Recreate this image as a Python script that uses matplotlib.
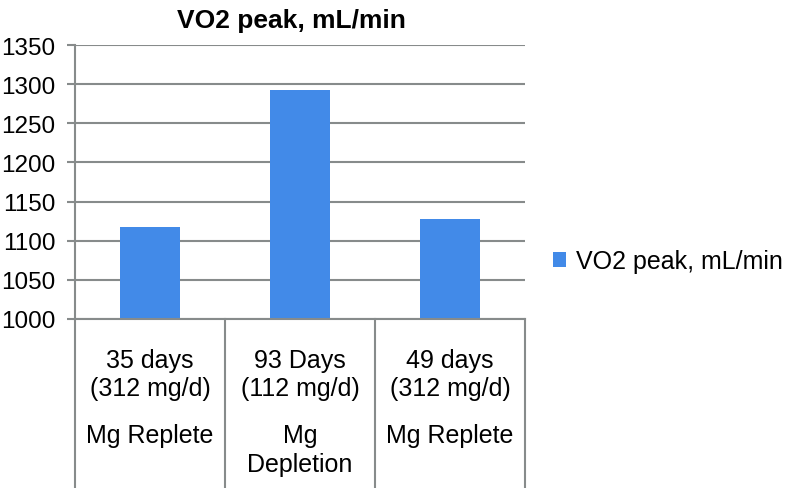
import matplotlib
matplotlib.use("Agg")
import matplotlib.pyplot as plt

# data
days = ["35 days\n(312 mg/d)", "93 Days\n(112 mg/d)", "49 days\n(312 mg/d)"]
phase = ["Mg Replete", "Mg\nDepletion", "Mg Replete"]
vo2 = [1118, 1293, 1128]
series = "VO2 peak, mL/min"
yticks = [1000, 1050, 1100, 1150, 1200, 1250, 1300, 1350]

plt.rcParams['font.family'] = ['Liberation Sans', 'DejaVu Sans']
grey = "#878b8b"
blue = "#428ae8"

fig = plt.figure(figsize=(7.86, 4.89), dpi=100)
ax = fig.add_axes([75/786, 1 - 320/489, 450/786, 274/489])

x = range(len(vo2))
ax.bar(x, vo2, width=0.4, color=blue, label=series, zorder=3)

ax.set_xlim(-0.5, 2.5)
ax.set_ylim(1000, 1350)
ax.set_yticks(yticks)
ax.tick_params(axis='y', labelsize=17.5, length=6, width=1.5, color=grey, pad=8)
ax.tick_params(axis='x', bottom=False, labelbottom=False)
ax.grid(axis='y', color=grey, linewidth=1.5, zorder=0)

for s in ["top", "right", "bottom"]:
    ax.spines[s].set_visible(False)
ax.spines["left"].set_color(grey)
ax.spines["left"].set_linewidth(1.5)

# table-like category area under the axis
tr = ax.get_xaxis_transform()
for b in [-0.5, 0.5, 1.5, 2.5]:
    ax.plot([b, b], [0, -0.7], color=grey, linewidth=1.5, transform=tr, clip_on=False)
ax.plot([-0.5, 2.5], [0, 0], color=grey, linewidth=1.5, transform=tr, clip_on=False, zorder=4)

for i in x:
    ax.text(i, -0.105, days[i], transform=tr, ha='center', va='top', fontsize=18,
            linespacing=1.2)
    ax.text(i, -0.38, phase[i], transform=tr, ha='center', va='top', fontsize=18,
            linespacing=1.25)

ax.set_title(series, fontsize=19, fontweight='bold', pad=13, x=0.48)

ax.legend(loc='center left', bbox_to_anchor=(1.04, 0.21), frameon=False, fontsize=18,
          borderaxespad=0, handlelength=0.5, handleheight=0.5, handletextpad=0.4)

fig.savefig("out.png", dpi=100)
